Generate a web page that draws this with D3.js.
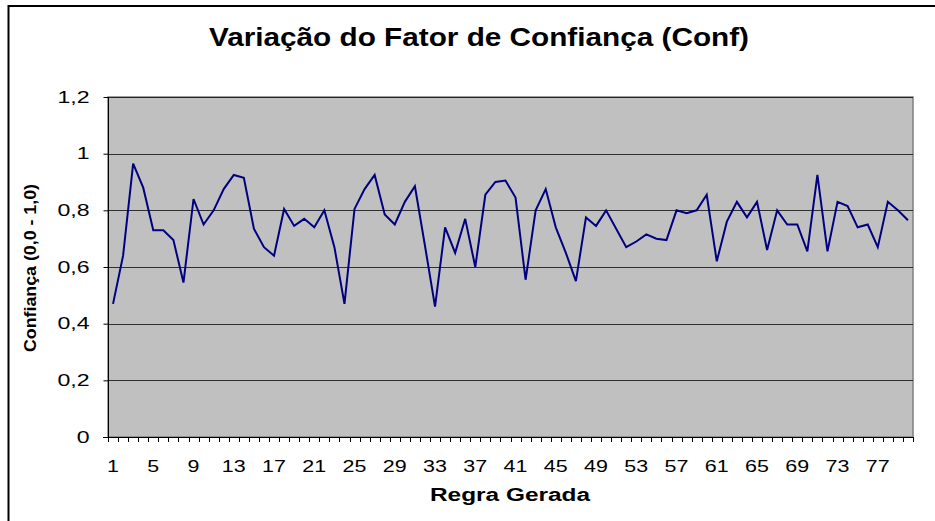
<!DOCTYPE html>
<html>
<head>
<meta charset="utf-8">
<script src="https://cdn.jsdelivr.net/npm/d3@7"></script>
<style>
  body { margin: 0; background: #fff; }
  text { font-family: "Liberation Sans", Arial, sans-serif; }
</style>
</head>
<body>
<div id="chart"></div>
<script>
// regras geradas 1..80 e o fator de confianca de cada uma
var rules = d3.range(1, 81);
var conf = [
  0.47, 0.64, 0.965, 0.88, 0.73, 0.73, 0.695, 0.545, 0.84, 0.75,
  0.80, 0.875, 0.925, 0.915, 0.735, 0.67, 0.64, 0.805, 0.745, 0.77,
  0.74, 0.80, 0.67, 0.47, 0.805, 0.875, 0.925, 0.785, 0.75, 0.83,
  0.885, 0.675, 0.46, 0.74, 0.65, 0.77, 0.60, 0.855, 0.90, 0.905,
  0.845, 0.555, 0.80, 0.875, 0.74, 0.65, 0.55, 0.775, 0.745, 0.80,
  0.735, 0.67, 0.69, 0.715, 0.70, 0.695, 0.80, 0.79, 0.80, 0.855,
  0.62, 0.76, 0.83, 0.775, 0.83, 0.66, 0.80, 0.75, 0.75, 0.655,
  0.925, 0.655, 0.83, 0.815, 0.74, 0.75, 0.67, 0.83, 0.80, 0.765
];
var yTicks = [0, 0.2, 0.4, 0.6, 0.8, 1, 1.2];
var yTickLabels = ["0", "0,2", "0,4", "0,6", "0,8", "1", "1,2"];
var xLabelRules = [1, 5, 9, 13, 17, 21, 25, 29, 33, 37, 41, 45, 49, 53, 57, 61, 65, 69, 73, 77];

var svg = d3.select("#chart")
    .append("svg")
    .attr("width", 935)
    .attr("height", 521);

// texto esticado na horizontal, como no grafico do Excel
function stretch(sel, k) {
  sel.each(function() {
    var w = this.getComputedTextLength();
    d3.select(this)
        .attr("textLength", w * k)
        .attr("lengthAdjust", "spacingAndGlyphs");
  });
}

// moldura do grafico
svg.append("rect")
    .attr("x", 8.5)
    .attr("y", 6)
    .attr("width", 1000)
    .attr("height", 600)
    .attr("fill", "none")
    .attr("stroke", "#000")
    .attr("stroke-width", 2);

var pLeft = 108, pRight = 913, pTop = 97, pBottom = 437;

var x = d3.scaleBand()
    .domain(rules)
    .range([pLeft, pRight])
    .padding(0);

var y = d3.scaleLinear()
    .domain([0, 1.2])
    .range([pBottom, pTop]);

// area do grafico
svg.append("rect")
    .attr("x", pLeft)
    .attr("y", pTop)
    .attr("width", pRight - pLeft)
    .attr("height", pBottom - pTop)
    .attr("fill", "#c0c0c0")
    .attr("stroke", "#808080")
    .attr("stroke-width", 1.5);

// linhas de grade
svg.append("g")
    .selectAll("line")
    .data(yTicks.slice(1))
    .join("line")
    .attr("x1", pLeft)
    .attr("x2", pRight)
    .attr("y1", function(d) { return Math.round(y(d)) + 0.5; })
    .attr("y2", function(d) { return Math.round(y(d)) + 0.5; })
    .attr("stroke", "#000")
    .attr("stroke-opacity", 0.75)
    .attr("stroke-width", 1);

// eixo y
var yAxis = d3.axisLeft(y)
    .tickValues(yTicks)
    .tickSize(5)
    .tickPadding(14)
    .tickFormat(function(d, i) { return yTickLabels[i]; });

svg.append("g")
    .attr("transform", "translate(" + (pLeft + 0.5) + ",0)")
    .call(yAxis)
    .call(function(g) {
      g.select(".domain").attr("stroke", "#000").attr("d", "M0," + (pBottom + 4) + "V" + pTop);
      g.selectAll(".tick line").attr("stroke", "#000");
      g.selectAll("text").attr("font-size", 16.5).attr("fill", "#000")
          .attr("font-family", "Liberation Sans, Arial, sans-serif")
          .call(stretch, 1.4);
    });

// eixo x: marcas entre categorias
var xg = svg.append("g");
xg.append("line")
    .attr("x1", pLeft - 5)
    .attr("x2", pRight)
    .attr("y1", pBottom + 0.5)
    .attr("y2", pBottom + 0.5)
    .attr("stroke", "#000");
xg.selectAll(".tk")
    .data(rules.concat([rules.length + 1]))
    .join("line")
    .attr("class", "tk")
    .attr("x1", function(d) { return Math.round(d <= rules.length ? x(d) : pRight) + 0.5; })
    .attr("x2", function(d) { return Math.round(d <= rules.length ? x(d) : pRight) + 0.5; })
    .attr("y1", pBottom)
    .attr("y2", pBottom + 5)
    .attr("stroke", "#000");
xg.selectAll(".lbl")
    .data(xLabelRules)
    .join("text")
    .attr("class", "lbl")
    .attr("x", function(d) { return x(d) + x.bandwidth() / 2; })
    .attr("y", 472)
    .attr("text-anchor", "middle")
    .attr("font-size", 16.5)
    .text(function(d) { return d; })
    .call(stretch, 1.3);

// serie
var line = d3.line()
    .x(function(d, i) { return x(rules[i]) + x.bandwidth() / 2; })
    .y(function(d) { return y(d); });

svg.append("path")
    .datum(conf)
    .attr("d", line)
    .attr("fill", "none")
    .attr("stroke", "#000080")
    .attr("stroke-width", 2)
    .attr("stroke-linejoin", "miter");

// titulos
svg.append("text")
    .attr("x", 479)
    .attr("y", 46)
    .attr("text-anchor", "middle")
    .attr("font-size", 25)
    .attr("font-weight", "bold")
    .attr("textLength", 540)
    .attr("lengthAdjust", "spacingAndGlyphs")
    .text("Variação do Fator de Confiança (Conf)");

svg.append("text")
    .attr("x", 510)
    .attr("y", 501)
    .attr("text-anchor", "middle")
    .attr("font-size", 18)
    .attr("font-weight", "bold")
    .attr("textLength", 160)
    .attr("lengthAdjust", "spacingAndGlyphs")
    .text("Regra Gerada");

svg.append("text")
    .attr("transform", "translate(36,268) rotate(-90)")
    .attr("text-anchor", "middle")
    .attr("font-size", 16)
    .attr("font-weight", "bold")
    .attr("textLength", 168)
    .attr("lengthAdjust", "spacingAndGlyphs")
    .text("Confiança (0,0 - 1,0)");
</script>
</body>
</html>
